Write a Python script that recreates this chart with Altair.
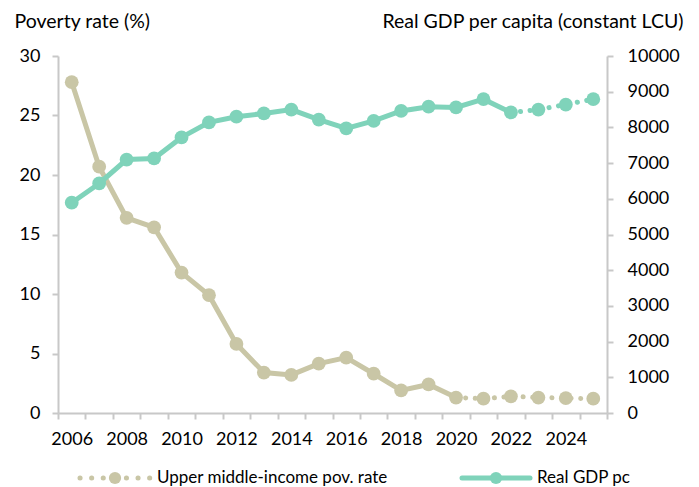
import altair as alt
import pandas as pd

# ---- data ----
years = list(range(2006, 2026))
poverty = [27.8, 20.7, 16.4, 15.6, 11.8, 9.9, 5.8, 3.4, 3.2, 4.15, 4.65, 3.3, 1.9, 2.4, 1.3, 1.2, 1.4, 1.3, 1.25, 1.2]
gdp = [5890, 6430, 7100, 7130, 7720, 8140, 8300, 8390, 8500, 8220, 7970, 8180, 8460, 8580, 8560, 8790, 8420, 8500, 8640, 8790]
pov_last_actual = 2020   # dotted after this year
gdp_last_actual = 2022

pov_ticks = [0, 5, 10, 15, 20, 25, 30]
gdp_ticks = list(range(0, 10001, 1000))

TAN = "#C9C6A6"
TEAL = "#7FD3BA"
AXIS_GREY = "#C8C8C8"
FONT = "Lato"
FS = 18
TFS = 19.5
LFS = 17

df = pd.DataFrame({"year": years, "poverty": poverty, "gdp": gdp})
pov_solid = df[df.year <= pov_last_actual]
pov_dot = df[df.year >= pov_last_actual]
gdp_solid = df[df.year <= gdp_last_actual]
gdp_dot = df[df.year >= gdp_last_actual]

x_enc = alt.X(
    "year:O",
    scale=alt.Scale(type="band", paddingInner=0, paddingOuter=0),
    axis=alt.Axis(
        title=None, tickBand="extent", labelAngle=0,
        labelExpr="datum.value % 2 == 0 ? datum.label : ''",
        labelOverlap=False, labelFont=FONT, labelFontSize=FS, labelColor="#000",
        labelPadding=11, tickSize=6, tickColor=AXIS_GREY, tickWidth=2,
        domainColor=AXIS_GREY, domainWidth=2, grid=False,
    ),
)

y_pov = alt.Y(
    "poverty:Q",
    scale=alt.Scale(domain=[0, 30], nice=False),
    axis=alt.Axis(
        values=pov_ticks, title="Poverty rate (%)", titleAngle=0,
        titleX=-44, titleY=-29, titleAlign="left", titleBaseline="alphabetic",
        titleFont=FONT, titleFontSize=TFS, titleFontWeight="normal", titleColor="#000",
        labelFont=FONT, labelFontSize=FS, labelColor="#000", labelPadding=12,
        tickSize=6, tickColor=AXIS_GREY, tickWidth=2,
        domainColor=AXIS_GREY, domainWidth=2, grid=False,
    ),
)

y_gdp = alt.Y(
    "gdp:Q",
    scale=alt.Scale(domain=[0, 10000], nice=False),
    axis=alt.Axis(
        orient="right", values=gdp_ticks, format="d",
        title="Real GDP per capita (constant LCU)", titleAngle=0,
        titleX=76, titleY=-29, titleAlign="right", titleBaseline="alphabetic",
        titleFont=FONT, titleFontSize=TFS, titleFontWeight="normal", titleColor="#000",
        labelFont=FONT, labelFontSize=FS, labelColor="#000", labelPadding=14,
        tickSize=6, tickColor=AXIS_GREY, tickWidth=2,
        domainColor=AXIS_GREY, domainWidth=2, grid=False,
    ),
)

DOT = [0.1, 9.5]
LW = 5
MS = 190

pov_layers = [
    alt.Chart(pov_solid).mark_line(color=TAN, strokeWidth=LW).encode(x=x_enc, y=y_pov),
    alt.Chart(pov_dot).mark_line(color=TAN, strokeWidth=LW, strokeDash=DOT, strokeCap="round").encode(x=x_enc, y=y_pov),
    alt.Chart(df).mark_circle(color=TAN, size=MS, opacity=1).encode(x=x_enc, y=y_pov),
]

one = pd.DataFrame({"k": [0]})
LEG_Y = 422
legend_layers = [
    alt.Chart(one).mark_rule(color=TAN, strokeWidth=LW, strokeDash=[0.1, 11.5], strokeCap="round").encode(
        x=alt.value(22), x2=alt.value(92), y=alt.value(LEG_Y)),
    alt.Chart(one).mark_circle(color=TAN, size=150, opacity=1).encode(x=alt.value(57), y=alt.value(LEG_Y)),
    alt.Chart(one).mark_text(align="left", baseline="middle", font=FONT, fontSize=LFS, color="#000").encode(
        x=alt.value(99), y=alt.value(LEG_Y), text=alt.value("Upper middle-income pov. rate")),
    alt.Chart(one).mark_rule(color=TEAL, strokeWidth=LW, strokeCap="round").encode(
        x=alt.value(404), x2=alt.value(472), y=alt.value(LEG_Y)),
    alt.Chart(one).mark_circle(color=TEAL, size=150, opacity=1).encode(x=alt.value(438), y=alt.value(LEG_Y)),
    alt.Chart(one).mark_text(align="left", baseline="middle", font=FONT, fontSize=LFS, color="#000").encode(
        x=alt.value(479), y=alt.value(LEG_Y), text=alt.value("Real GDP pc")),
]

gdp_layers = [
    alt.Chart(gdp_solid).mark_line(color=TEAL, strokeWidth=LW).encode(x=x_enc, y=y_gdp),
    alt.Chart(gdp_dot).mark_line(color=TEAL, strokeWidth=LW, strokeDash=DOT, strokeCap="round").encode(x=x_enc, y=y_gdp),
    alt.Chart(df).mark_circle(color=TEAL, size=MS, opacity=1).encode(x=x_enc, y=y_gdp),
]

left = alt.layer(*pov_layers, *legend_layers)
right = alt.layer(*gdp_layers)

chart = (
    alt.layer(left, right)
    .resolve_scale(y="independent")
    .properties(
        width=549, height=357,
        padding={"left": 50, "top": 48, "right": 84, "bottom": 74},
        autosize=alt.AutoSizeParams(type="none"),
        background="white",
    )
    .configure_view(stroke=None)
)

chart.save("out.html", embed_options={"renderer": "svg", "actions": False})
